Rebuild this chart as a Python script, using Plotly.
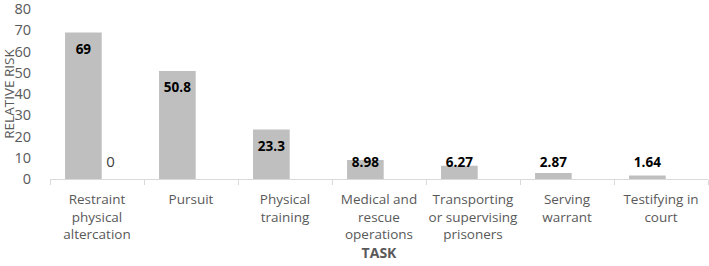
import plotly.graph_objects as go

tasks = ["Restraint<br>physical<br>altercation", "Pursuit", "Physical<br>training",
         "Medical and<br>rescue<br>operations", "Transporting<br>or supervising<br>prisoners",
         "Serving<br>warrant", "Testifying in<br>court"]
risk = [69, 50.8, 23.3, 8.98, 6.27, 2.87, 1.64]
risk_labels = ["69", "50.8", "23.3", "8.98", "6.27", "2.87", "1.64"]
second = [0, None, None, None, None, None, None]
second_labels = ["0", "", "", "", "", "", ""]

idx = list(range(len(tasks)))
W = 0.39
OFF1 = -0.34
OFF2 = -0.05

def label_pos(v):
    if v is None:
        return None
    return max(v - 8.4, 7.4)

fig = go.Figure()
fig.add_trace(go.Bar(x=idx, y=risk, width=W, offset=OFF1, marker_color="#bfbfbf",
                     marker_line_width=0, hoverinfo="skip"))
fig.add_trace(go.Bar(x=idx, y=second, width=W, offset=OFF2, marker_color="#bfbfbf",
                     marker_line_width=0, hoverinfo="skip"))
fig.add_trace(go.Scatter(x=[i + OFF1 + W / 2 for i in idx], y=[label_pos(v) for v in risk],
                         mode="text", text=[f"<b>{t}</b>" for t in risk_labels],
                         textfont=dict(family="Open Sans", size=13.5, color="#000000"),
                         hoverinfo="skip", cliponaxis=False))
fig.add_trace(go.Scatter(x=[i + OFF2 + W / 2 for i in idx], y=[label_pos(v) for v in second],
                         mode="text", text=second_labels,
                         textfont=dict(family="Open Sans", size=15, color="#404040"),
                         hoverinfo="skip", cliponaxis=False))

fig.update_layout(
    width=709, height=266,
    margin=dict(l=50, r=1, t=9, b=87),
    paper_bgcolor="white", plot_bgcolor="white",
    showlegend=False,
    font=dict(family="Open Sans", size=14, color="#595959"),
    xaxis=dict(range=[-0.5, 6.5], tickvals=idx, ticktext=tasks, ticks="", automargin=False,
               showline=True, linecolor="#d9d9d9", linewidth=1, showgrid=False, zeroline=False,
               tickfont=dict(size=13.5, color="#595959"), ticklabelstandoff=8,
               minor=dict(tick0=0.5, dtick=1, ticks="outside", ticklen=5, tickcolor="#d9d9d9"),
               title=dict(text="<b>TASK</b>", font=dict(size=14, color="#595959"), standoff=0)),
    yaxis=dict(range=[0, 80.01], tickvals=[0, 10, 20, 30, 40, 50, 60, 70, 80],
               showgrid=False, zeroline=False, showline=False, automargin=False,
               tickfont=dict(size=14.5, color="#595959"), ticklabelstandoff=18,
               ticklabeloverflow="allow",
               title=dict(text="RELATIVE RISK", font=dict(size=13.5, color="#595959"), standoff=0)),
)
fig.write_html("out.html", config={"displayModeBar": False},
               post_script="document.body.style.margin='0';document.body.style.overflow='hidden';")
